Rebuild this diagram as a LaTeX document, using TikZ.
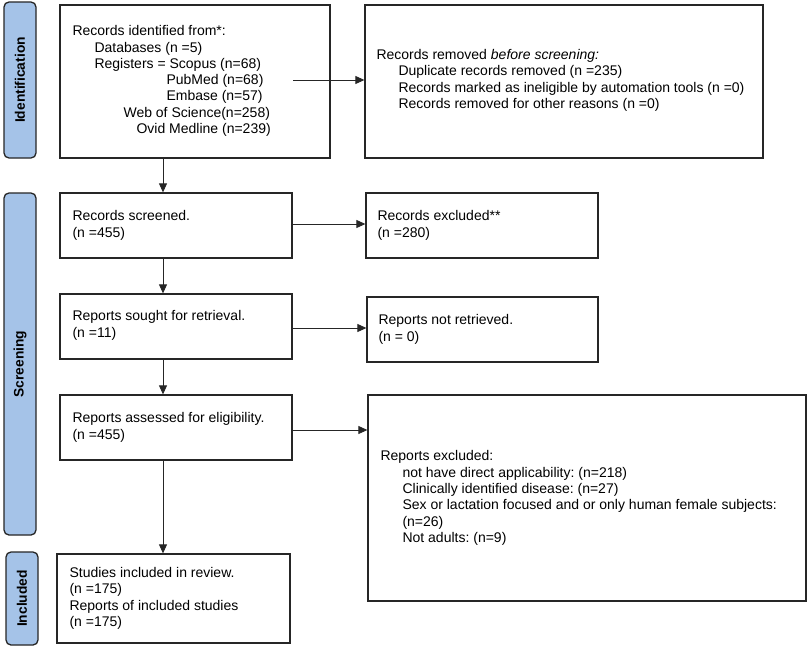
\documentclass[tikz,border=0pt]{standalone}
\usepackage{fontspec}
\setmainfont{Liberation Sans}
\usetikzlibrary{arrows.meta}
\definecolor{sidefill}{HTML}{A5C3E8}
\definecolor{edge}{HTML}{262626}
\frenchspacing
\begin{document}
\begin{tikzpicture}[x=1pt,y=-1pt,
  box/.style={draw=edge, line width=1.3pt, fill=white, inner sep=0pt},
  txt/.style={anchor=west, align=left, inner sep=0pt, font=\fontsize{14}{16.3}\selectfont},
  side/.style={draw=edge, line width=1.3pt, fill=sidefill, rounded corners=5pt,
    minimum width=32pt, inner sep=0pt},
  sidelabel/.style={rotate=90, font=\fontsize{13.8}{16}\selectfont\bfseries, text=black},
  arr/.style={draw=black!85, line width=0.8pt, -{Triangle[length=9pt,width=8pt]}}
]
\useasboundingbox (0,0) rectangle (809,648);
\fill[white] (0,0) rectangle (809,648);

% side bars
\node[side, minimum height=156pt] (s1) at (20,80) {};
\node[sidelabel] (s1t) at (s1.center) {Identification};
\node[side, minimum height=342pt] (s2) at (20,364) {};
\node[sidelabel] (s2t) at (s2.center) {Screening};
\node[side, minimum height=93pt] (s3) at (22,598.5) {};
\node[sidelabel] (s3t) at (s3.center) {Included};

% boxes
\node[box, minimum width=270pt, minimum height=153pt] (b1) at (195,81.5) {};
\node[txt] (b1t) at ([xshift=13pt,yshift=0.5pt]b1.west) {Records identified from*:\\
\hspace*{22pt}Databases (n =5)\\
\hspace*{22pt}Registers = Scopus (n=68)\\
\hspace*{94pt}PubMed (n=68)\\
\hspace*{94pt}Embase (n=57)\\
\hspace*{51pt}Web of Science(n=258)\\
\hspace*{64pt}Ovid Medline (n=239)};

\node[box, minimum width=398pt, minimum height=153pt] (b2) at (564,81.5) {};
\node[txt] (b2t) at ([xshift=12pt,yshift=1pt]b2.west) {Records removed \textit{before screening:}\\
\hspace*{22pt}Duplicate records removed (n =235)\\
\hspace*{22pt}Records marked as ineligible by automation tools (n =0)\\
\hspace*{22pt}Records removed for other reasons (n =0)};

\node[box, minimum width=232pt, minimum height=65pt] (b3) at (176,225.5) {};
\node[txt] (b3t) at ([xshift=13pt]b3.west) {Records screened.\\(n =455)};
\node[box, minimum width=232pt, minimum height=65pt] (b4) at (482,225.5) {};
\node[txt] (b4t) at ([xshift=12pt]b4.west) {Records excluded**\\(n =280)};
\node[box, minimum width=232pt, minimum height=65pt] (b5) at (176,326.5) {};
\node[txt] (b5t) at ([xshift=13pt,yshift=1pt]b5.west) {Reports sought for retrieval.\\(n =11)};
\node[box, minimum width=231pt, minimum height=65pt] (b6) at (482.5,329.5) {};
\node[txt] (b6t) at ([xshift=12pt]b6.west) {Reports not retrieved.\\(n = 0)};
\node[box, minimum width=232pt, minimum height=65pt] (b7) at (176,427.5) {};
\node[txt] (b7t) at ([xshift=13pt]b7.west) {Reports assessed for eligibility.\\(n =455)};
\node[box, minimum width=438pt, minimum height=206pt] (b8) at (587,498) {};
\node[txt] (b8t) at ([xshift=13pt]b8.west) {Reports excluded:\\
\hspace*{22pt}not have direct applicability: (n=218)\\
\hspace*{22pt}Clinically identified disease: (n=27)\\
\hspace*{22pt}Sex or lactation focused and or only human female subjects:\\
\hspace*{22pt}(n=26)\\
\hspace*{22pt}Not adults: (n=9)};
\node[box, minimum width=233pt, minimum height=89pt] (b9) at (173.5,598.5) {};
\node[txt] (b9t) at ([xshift=13pt]b9.west) {Studies included in review.\\(n =175)\\Reports of included studies\\(n =175)};

% connectors
\coordinate (a1) at (293,80);
\coordinate (vx) at (163,0);
\draw[arr] (a1) -- (a1 -| b2.west);
\draw[arr] (b1.south -| vx) -- (b3.north -| vx);
\draw[arr] (b3.east |- 0,224) -- (b4.west |- 0,224);
\draw[arr] (b3.south -| vx) -- (b5.north -| vx);
\draw[arr] (b5.east |- 0,328) -- (b6.west |- 0,328);
\draw[arr] (b5.south -| vx) -- (b7.north -| vx);
\draw[arr] (b7.east |- 0,430) -- (b8.west |- 0,430);
\draw[arr] (b7.south -| vx) -- (b9.north -| vx);
\end{tikzpicture}
\end{document}
